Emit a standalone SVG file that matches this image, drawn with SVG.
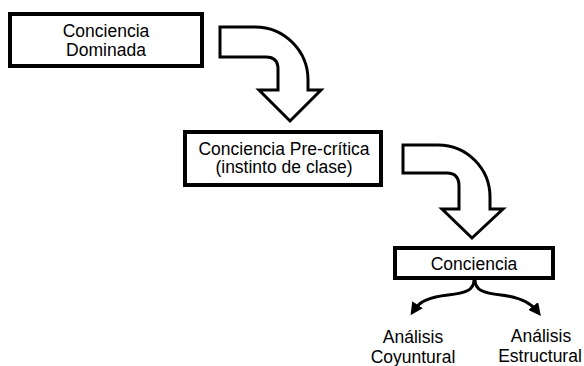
<svg xmlns="http://www.w3.org/2000/svg" width="584" height="366" viewBox="0 0 584 366">
<defs>
<style>
.box{fill:#fff;stroke:#000;stroke-width:4}
.big{fill:#fff;stroke:#000;stroke-width:3;stroke-linejoin:miter}
.lbl{font-family:"Liberation Sans",Arial,sans-serif;font-size:17.5px;fill:#000;text-anchor:middle}
.con{fill:none;stroke:#000;stroke-width:3}
</style>
<marker id="ah" viewBox="0 0 10 10" refX="5" refY="5" markerWidth="4.2" markerHeight="4.2" orient="auto" markerUnits="strokeWidth">
<path d="M0,0 L10,5 L0,10 Z" fill="#000"/>
</marker>
</defs>
<rect width="584" height="366" fill="#fff"/>
<g id="connectors">
<path class="big" d="M220,27 L255,27 A53,53 0 0 1 308,80 L308,90 L321,90 L290,121 L259,90 L278,90 L278,69 Q278,57 266,57 L220,57 Z"/>
<path class="big" d="M403,145 L438,145 A52,52 0 0 1 490,197 L490,209 L503,209 L472,238 L442,209 L459,209 L459,186 Q459,173 447,173 L403,173 Z"/>
<path class="con" d="M474,280 C474,290 466,293 448,295 C430,297 420,301 414,310" marker-end="url(#ah)"/>
<path class="con" d="M475,280 C475,290 483,293 501,295 C519,297 530,302 537,311" marker-end="url(#ah)"/>
</g>
<g id="n1">
<rect class="box" x="10" y="14" width="192" height="52"/>
<text class="lbl" x="106" y="37">Conciencia</text>
<text class="lbl" x="106" y="56">Dominada</text>
</g>
<g id="n2">
<rect class="box" x="185" y="132" width="196" height="53"/>
<text class="lbl" x="284" y="155">Conciencia Pre-crítica</text>
<text class="lbl" x="284" y="173">(instinto de clase)</text>
</g>
<g id="n3">
<rect class="box" x="395" y="248" width="158" height="30"/>
<text class="lbl" x="474" y="270">Conciencia</text>
</g>
<g id="n4">
<text class="lbl" x="413" y="343">Análisis</text>
<text class="lbl" x="413" y="363">Coyuntural</text>
</g>
<g id="n5">
<text class="lbl" x="541" y="342">Análisis</text>
<text class="lbl" x="540" y="362">Estructural</text>
</g>
</svg>
